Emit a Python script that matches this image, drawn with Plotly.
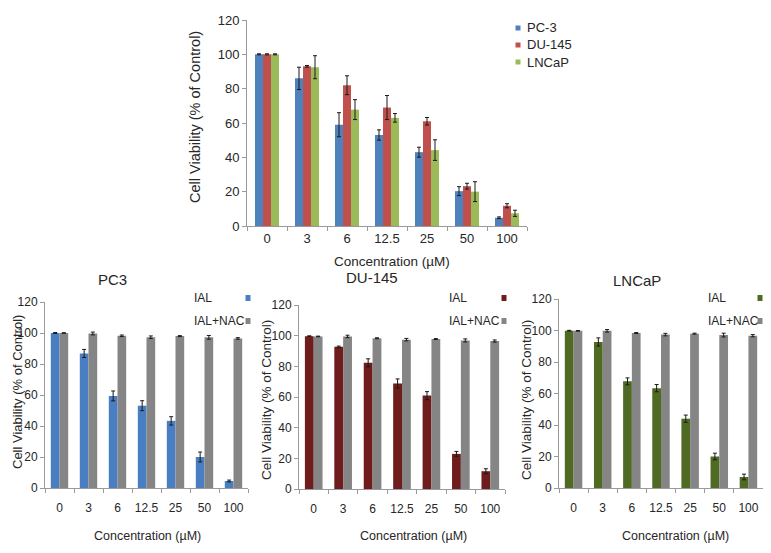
import plotly.graph_objects as go

# page body has an 8px default margin, so the figure is drawn inside it
PAGE_W, PAGE_H = 771, 553
OFF = 8
FW, FH = PAGE_W - 2 * OFF, PAGE_H - 2 * OFF

conc = ["0", "3", "6", "12.5", "25", "50", "100"]
yticks = [0, 20, 40, 60, 80, 100, 120]

# ---- top panel: viability of three cell lines ----
top_series = ["PC-3", "DU-145", "LNCaP"]
pc3_top = [100, 86, 59, 53, 43, 20.3, 4.8]
pc3_top_err = [0.3, 6.5, 7, 3, 2.9, 2.6, 0.5]
du_top = [100, 93, 82, 69, 61, 23.2, 11.8]
du_top_err = [0.3, 0.5, 5.5, 7, 2.2, 1.7, 1.2]
ln_top = [100, 92.5, 67.8, 63, 44.2, 20, 7.4]
ln_top_err = [0.3, 6.7, 5.8, 2.5, 6, 5.8, 1.8]

# ---- bottom panels: IAL vs IAL+NAC ----
bottom_titles = ["PC3", "DU-145", "LNCaP"]
bottom_series = ["IAL", "IAL+NAC"]
pc3_ial = [100, 86.8, 59.4, 53.1, 43.3, 20, 4.5]
pc3_ial_err = [0.3, 2.6, 3.2, 3.2, 2.7, 3.2, 0.6]
pc3_nac = [100, 99.7, 98.2, 97.3, 98, 97.2, 96.5]
pc3_nac_err = [0.2, 0.9, 0.5, 0.8, 0.3, 1.2, 0.5]
du_ial = [99.7, 92.7, 82.3, 68.8, 60.9, 22.9, 11.6]
du_ial_err = [0.2, 0.5, 2.6, 3, 2.6, 1.6, 1.6]
du_nac = [99.5, 99.5, 98.3, 97.4, 97.8, 96.9, 96.5]
du_nac_err = [0.2, 0.8, 0.3, 0.8, 0.3, 1.0, 0.7]
ln_ial = [99.9, 92.7, 67.7, 63.4, 44, 20, 7]
ln_ial_err = [0.2, 2.6, 2.2, 2.3, 2.3, 2.1, 1.8]
ln_nac = [99.8, 99.8, 98.4, 97.4, 98, 97.1, 96.7]
ln_nac_err = [0.2, 0.8, 0.3, 0.8, 0.3, 1.2, 0.7]

top_colors = ["#4f81bd", "#c0504d", "#9bbb59"]
ial_colors = ["#4a7ec2", "#6e1c1c", "#4f6a22"]
nac_color = "#858585"
txt = "#262626"
axis_col = "#9a9a9a"
FONT = "Liberation Sans, Arial, sans-serif"


def px(x):
    return (x - OFF) / FW


def py(y):
    return 1 - (y - OFF) / FH


fig = go.Figure()

# panel geometry (page pixels): x0, x1, ytop(120), ybottom(0)
panels = [
    (247, 527, 20, 226),
    (45, 248, 302, 488),
    (299, 505, 305, 489),
    (559, 763, 299, 488),
]

err_style = dict(type="data", color="#1a1a1a", thickness=1, width=2)

for name, vals, errs, col in zip(top_series, [pc3_top, du_top, ln_top],
                                 [pc3_top_err, du_top_err, ln_top_err], top_colors):
    fig.add_trace(go.Bar(x=conc, y=vals, name=name, marker_color=col,
                         marker_line_width=0,
                         error_y=dict(array=errs, **err_style),
                         xaxis="x", yaxis="y", showlegend=False))

bottom_data = [
    (pc3_ial, pc3_ial_err, pc3_nac, pc3_nac_err),
    (du_ial, du_ial_err, du_nac, du_nac_err),
    (ln_ial, ln_ial_err, ln_nac, ln_nac_err),
]
for i, (ial, ialerr, nac, nacerr) in enumerate(bottom_data):
    ax = str(i + 2)
    fig.add_trace(go.Bar(x=conc, y=ial, name="IAL", marker_color=ial_colors[i],
                         marker_line_width=0,
                         error_y=dict(array=ialerr, **err_style),
                         xaxis="x" + ax, yaxis="y" + ax, showlegend=False))
    fig.add_trace(go.Bar(x=conc, y=nac, name="IAL+NAC", marker_color=nac_color,
                         marker_line_width=0,
                         error_y=dict(array=nacerr, **err_style),
                         xaxis="x" + ax, yaxis="y" + ax, showlegend=False))

layout = dict(
    width=FW, height=FH,
    margin=dict(l=0, r=0, t=0, b=0, autoexpand=False),
    paper_bgcolor="white", plot_bgcolor="white",
    barmode="group", bargap=0.4, bargroupgap=0,
    font=dict(family=FONT, color=txt, size=12),
    showlegend=False,
)

for i, (x0, x1, yt, yb) in enumerate(panels):
    suffix = "" if i == 0 else str(i + 1)
    fs = 13 if i == 0 else 12
    layout["xaxis" + suffix] = dict(
        domain=[px(x0), px(x1)], anchor="y" + suffix, type="category",
        showline=True, linecolor=axis_col, linewidth=1,
        ticks="outside", tickson="boundaries", ticklen=4, tickcolor=axis_col,
        showgrid=False, zeroline=False, tickangle=0, automargin=False,
        tickfont=dict(size=fs, color=txt),
        ticklabelstandoff=0 if i == 0 else 9,
    )
    layout["yaxis" + suffix] = dict(
        domain=[py(yb), py(yt)], anchor="x" + suffix,
        range=[0, 120], tickvals=yticks, automargin=False,
        showline=True, linecolor=axis_col, linewidth=1,
        ticks="outside", ticklen=4, tickcolor=axis_col,
        showgrid=False, zeroline=False,
        tickfont=dict(size=fs, color=txt),
    )

annotations = []
shapes = []

ytitles = [(195, 117, 14.5), (17, 392, 13), (266, 400, 13.5), (526, 400, 13.5)]
for (x, y, s) in ytitles:
    annotations.append(dict(text="Cell Viability (% of Control)", x=px(x), y=py(y),
                            xref="paper", yref="paper", showarrow=False,
                            textangle=-90, xanchor="center", yanchor="middle",
                            borderpad=0,
                            font=dict(size=s, color=txt)))
xtitles = [(392, 261, 13.5), (147, 536, 12.5), (413, 536, 12.5), (675, 536, 12.5)]
for (x, y, s) in xtitles:
    annotations.append(dict(text="Concentration (µM)", x=px(x), y=py(y),
                            xref="paper", yref="paper", showarrow=False,
                            xanchor="center", yanchor="middle",
                            font=dict(size=s, color=txt)))
for t, (x, y) in zip(bottom_titles, [(113, 279), (372, 277), (637, 280)]):
    annotations.append(dict(text=t, x=px(x), y=py(y), xref="paper", yref="paper",
                            showarrow=False, xanchor="center", yanchor="middle",
                            font=dict(size=15, color=txt)))

for name, col, y in zip(top_series, top_colors, [28, 45, 62]):
    shapes.append(dict(type="rect", xref="paper", yref="paper",
                       x0=px(515.5), x1=px(520.5), y0=py(y + 2.5), y1=py(y - 2.5),
                       fillcolor=col, line_width=0))
    annotations.append(dict(text=name, x=px(525), y=py(y), xref="paper", yref="paper",
                            showarrow=False, xanchor="left", yanchor="middle",
                            font=dict(size=13, color=txt)))

leg_pos = [(192, 248), (447, 504), (706, 760)]
for i, (tx, mx) in enumerate(leg_pos):
    for name, col, y in zip(bottom_series, [ial_colors[i], nac_color], [298, 321]):
        annotations.append(dict(text=name, x=px(tx), y=py(y), xref="paper", yref="paper",
                                showarrow=False, xanchor="left", yanchor="middle",
                                font=dict(size=12, color=txt)))
        shapes.append(dict(type="rect", xref="paper", yref="paper",
                           x0=px(mx - 2.5), x1=px(mx + 2.5), y0=py(y + 3), y1=py(y - 3),
                           fillcolor=col, line_width=0))

layout["annotations"] = annotations
layout["shapes"] = shapes
fig.update_layout(**layout)

fig.write_html("out.html")
